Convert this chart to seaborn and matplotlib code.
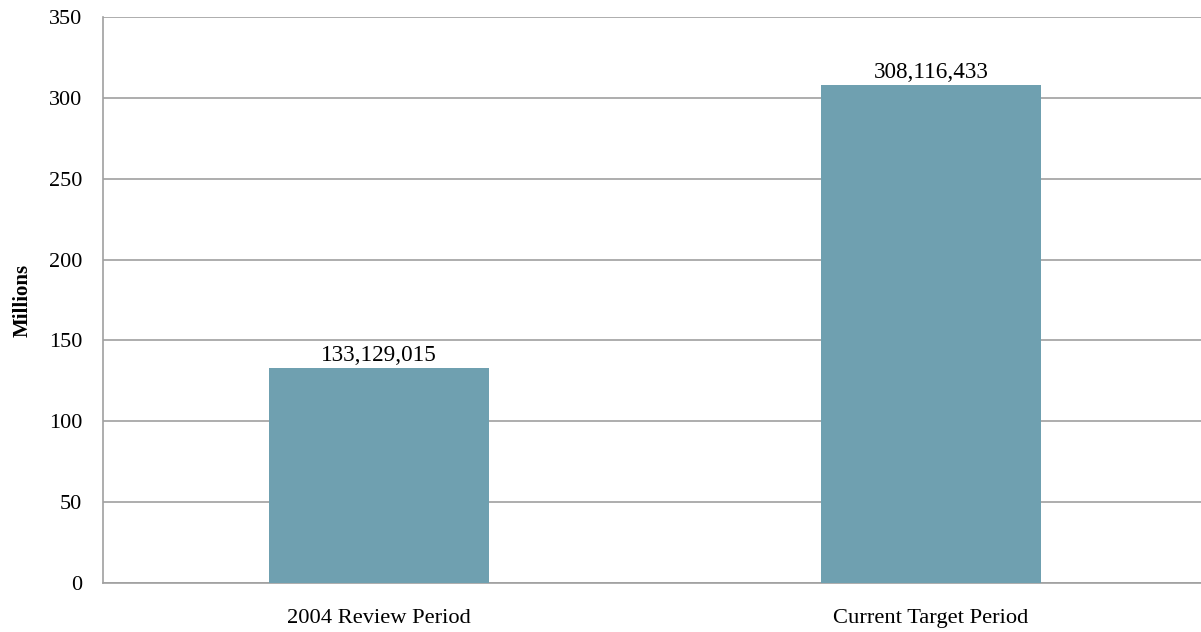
import matplotlib
matplotlib.use("Agg")
import matplotlib.pyplot as plt
import seaborn as sns
import pandas as pd

categories = ["2004 Review Period", "Current Target Period"]
values = [133129015, 308116433]
y_ticks = [0, 50, 100, 150, 200, 250, 300, 350]

sns.set_theme(style="white")
plt.rcParams["font.family"] = ["Liberation Serif", "DejaVu Serif"]
plt.rcParams["text.color"] = "black"
plt.rcParams["axes.labelcolor"] = "black"
plt.rcParams["xtick.color"] = "black"
plt.rcParams["ytick.color"] = "black"

df = pd.DataFrame({"period": categories, "millions": [v / 1e6 for v in values]})

fig = plt.figure(figsize=(12.01, 6.32), dpi=100)
ax = fig.add_axes([0.08576, 0.07753, 0.9192, 0.8956])

grid_c = "#a0a0a0"
sns.barplot(data=df, x="period", y="millions", color="#6fa0b0", width=0.4,
            saturation=1, linewidth=0, ax=ax, zorder=3)

ax.set_ylim(0, 350)
ax.set_xlim(-0.5, 1.5)
ax.set_yticks(y_ticks)
ax.set_yticklabels([str(t) for t in y_ticks], fontsize=16)
ax.yaxis.grid(True, color=grid_c, linewidth=1.2, zorder=0)
ax.set_axisbelow(True)

# category separators as major ticks, names as minor ticks
ax.set_xticks([-0.5, 0.5, 1.5])
ax.set_xticklabels(["", "", ""])
ax.set_xticks([0, 1], minor=True)
ax.set_xticklabels(categories, minor=True, fontsize=16.2)
ax.tick_params(axis="x", which="minor", length=0, pad=19, labelcolor="black")
ax.tick_params(axis="x", which="major", length=5.5, width=1.2, color=grid_c, direction="out")
ax.tick_params(axis="y", length=5, width=1.2, color=grid_c, direction="out", pad=10,
               labelcolor="black")

ax.set_xlabel("")
ax.set_ylabel("Millions", fontsize=15, fontweight="bold", color="black")
ax.yaxis.set_label_coords(-0.064, 0.5)

for s in ["top", "right"]:
    ax.spines[s].set_visible(False)
for s in ["left", "bottom"]:
    ax.spines[s].set_color(grid_c)
    ax.spines[s].set_linewidth(1.2)

for i, v in enumerate(values):
    ax.text(i, v / 1e6 + 1.0, f"{v:,}", ha="center", va="bottom", fontsize=16.7,
            color="black")

fig.savefig("out.png", dpi=100)
